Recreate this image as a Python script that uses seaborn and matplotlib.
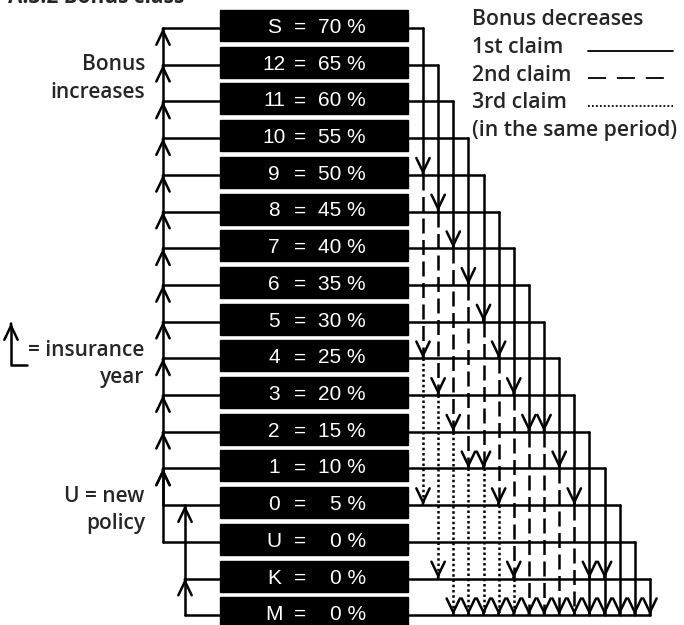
import matplotlib
matplotlib.use('Agg')
import matplotlib.pyplot as plt
import seaborn as sns
import pandas as pd

# bonus classes, top to bottom, and the bonus they give
classes = ['S', '12', '11', '10', '9', '8', '7', '6', '5', '4', '3', '2', '1', '0', 'U', 'K', 'M']
percents = [70, 65, 60, 55, 50, 45, 40, 35, 30, 25, 20, 15, 10, 5, 0, 0, 0]

# class reached after one insurance year without claims
increase_to = [None, 'S', '12', '11', '10', '9', '8', '7', '6', '5', '4', '3', '2', '1', '1', '0', 'K']

# class reached after the 1st / 2nd / 3rd claim in the same period
first_claim = ['9', '8', '7', '6', '5', '4', '3', '2', '2', '1', '0', 'K', 'K', 'M', 'M', 'M', None]
second_claim = ['4', '3', '2', '1', '1', '0', 'K', 'M', 'M', 'M', 'M', 'M', 'M', None, None, None, None]
third_claim = ['0', 'K', 'M', 'M', 'M', 'M', 'M', None, None, None, None, None, None, None, None, None, None]

# layout (pixels, y downwards)
ROW0, ROW_STEP = 28, 36.7
BOX_L, BOX_R = 220, 408
LEFT_TRACK, INNER_TRACK = 163, 185
COL0, COL_STEP = 423, 15.13
LW = 1.8
TEXT_FONT = ['Open Sans', 'DejaVu Sans']


def row_y(cls):
    return ROW0 + classes.index(cls) * ROW_STEP


def arrow(ax, x, y, up):
    d = 1 if up else -1
    ax.annotate('', xy=(x, y), xytext=(x, y + d),
                arrowprops=dict(arrowstyle='->, head_length=0.5, head_width=0.24',
                                mutation_scale=20, lw=LW, color='black',
                                shrinkA=0, shrinkB=0))


sns.set_style('white')
fig = plt.figure(figsize=(6.84, 6.25), dpi=100)
ax = fig.add_axes([0, 0, 1, 1])

segs = []
arrows = []


def add_seg(x0, y0, x1, y1, kind):
    n = len(segs) // 2
    segs.append({'seg': n, 'x': x0, 'y': y0, 'kind': kind})
    segs.append({'seg': n, 'x': x1, 'y': y1, 'kind': kind})


# left side: bonus increases
for i, cls in enumerate(classes):
    track = INNER_TRACK if cls in ('K', 'M') else LEFT_TRACK
    add_seg(track, row_y(cls), BOX_L, row_y(cls), '1st')
    if increase_to[i] is not None:
        add_seg(track, row_y(cls), track, row_y(increase_to[i]), '1st')
        arrows.append((track, row_y(increase_to[i]), True))

# right side: bonus decreases
for i, cls in enumerate(classes[:-1]):
    x = COL0 + i * COL_STEP
    add_seg(BOX_R, row_y(cls), x, row_y(cls), '1st')
    prev = cls
    for kind, target in [('1st', first_claim[i]), ('2nd', second_claim[i]), ('3rd', third_claim[i])]:
        if target is None:
            break
        style = '1st' if (kind == '2nd' and prev == 'K') else kind
        add_seg(x, row_y(prev), x, row_y(target), style)
        arrows.append((x, row_y(target), False))
        prev = target
add_seg(BOX_R, row_y('M'), COL0 + (len(classes) - 2) * COL_STEP, row_y('M'), '1st')

df = pd.DataFrame(segs)
sns.lineplot(data=df, x='x', y='y', units='seg', estimator=None, sort=False,
             style='kind', style_order=['1st', '2nd', '3rd'],
             dashes={'1st': '', '2nd': (6, 2.6), '3rd': (1, 1.1)},
             color='black', lw=LW, legend=False, ax=ax)

for x, y, up in arrows:
    arrow(ax, x, y, up)

# class boxes
for cls, p in zip(classes, percents):
    y = row_y(cls)
    ax.add_patch(plt.Rectangle((BOX_L, y - 18), BOX_R - BOX_L, 31, color='black', zorder=3))
    ax.text(274, y + 5, cls, color='white', fontsize=15, family='Liberation Sans',
            ha='center', va='baseline', zorder=4)
    ax.text(300, y + 5, '=', color='white', fontsize=15, family='Liberation Sans',
            ha='center', va='baseline', zorder=4)
    ax.text(366, y + 5, f'{p} %', color='white', fontsize=15, family='Liberation Sans',
            ha='right', va='baseline', zorder=4)

# left labels
left_kw = dict(fontsize=15, family=TEXT_FONT, fontweight='semibold', ha='right', va='baseline')
ax.text(145, 70, 'Bonus', **left_kw)
ax.text(145, 98, 'increases', **left_kw)
ax.text(144, 356, '= insurance', **left_kw)
ax.text(144, 383, 'year', **left_kw)
ax.text(144, 502, 'U = new', **left_kw)
ax.text(145, 529, 'policy', **left_kw)

# "insurance year" symbol
ax.plot([27, 11, 11], [365, 365, 326], color='black', lw=LW)
arrow(ax, 11, 323, True)

# title, cut off at the top edge
ax.text(8, 3, 'A.3.2 Bonus class', fontsize=15, family=TEXT_FONT, fontweight='bold',
        ha='left', va='baseline')

# key for the decreases
right_kw = dict(fontsize=15.3, family=TEXT_FONT, fontweight='semibold', ha='left', va='baseline')
ax.text(472, 25, 'Bonus decreases', **right_kw)
ax.text(472, 53, '1st claim', **right_kw)
ax.text(472, 81, '2nd claim', **right_kw)
ax.text(472, 108, '3rd claim', **right_kw)
ax.text(472, 136, '(in the same period)', **right_kw)
ax.plot([588, 673], [51, 51], color='black', lw=1.3)
ax.plot([588, 673], [78, 78], color='black', lw=1.3, dashes=(10, 6))
ax.plot([588, 673], [106, 106], color='black', lw=1.3, dashes=(1, 1.2))

ax.set_xlim(0, 684)
ax.set_ylim(625, 0)
ax.axis('off')
fig.savefig('out.png', dpi=100)
